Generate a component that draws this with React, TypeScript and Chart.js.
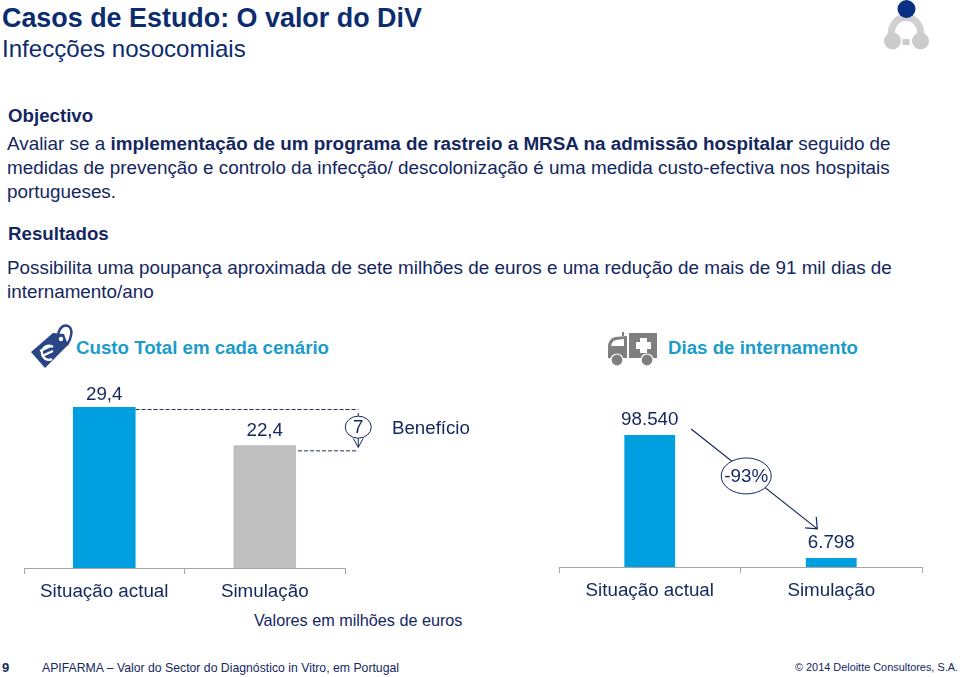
import React, { useEffect, useRef } from "react";
import { Chart, registerables } from "chart.js";

Chart.register(...registerables);

const NAVY = "#14275f";
const TITLE = "#0c2c70";
const CYAN = "#1b9ccb";
const BLUE = "#009fdf";
const GREY = "#bfbfbf";
const AXIS = "#a6a6a6";
const FONT = '"Liberation Sans", Arial, sans-serif';

const costCategories = ["Situação actual", "Simulação"];
const costValues = [29.4, 22.4];
const costLabels = ["29,4", "22,4"];
const costColors = [BLUE, GREY];
const benefitLabel = "7";

const dayCategories = ["Situação actual", "Simulação"];
const dayValues = [98540, 6798];
const dayLabels = ["98.540", "6.798"];
const changeLabel = "-93%";

function drawValueLabels(chart: any, labels: string[], gaps: number[]) {
  const { ctx } = chart;
  const meta = chart.getDatasetMeta(0);
  ctx.save();
  ctx.font = `18.8px ${FONT}`;
  ctx.fillStyle = NAVY;
  ctx.textAlign = "center";
  ctx.textBaseline = "alphabetic";
  meta.data.forEach((bar: any, i: number) => {
    ctx.fillText(labels[i], bar.x, bar.y - gaps[i]);
  });
  ctx.restore();
}

const costPlugin = {
  id: "costPlugin",
  afterDatasetsDraw(chart: any) {
    const { ctx } = chart;
    const y = chart.scales.y;
    const meta = chart.getDatasetMeta(0);
    const [a, b] = meta.data;
    drawValueLabels(chart, costLabels, [7, 9]);
    const mx = b.x + 93.5;
    const yA = y.getPixelForValue(costValues[0]) + 2;
    const yB = y.getPixelForValue(costValues[1]) + 5;
    ctx.save();
    ctx.strokeStyle = "#1c2c5a";
    ctx.lineWidth = 1;
    ctx.setLineDash([4, 2]);
    ctx.beginPath();
    ctx.moveTo(a.x + a.width / 2, yA + 0.5);
    ctx.lineTo(mx, yA + 0.5);
    ctx.moveTo(b.x + b.width / 2 + 2, yB + 0.5);
    ctx.lineTo(mx, yB + 0.5);
    ctx.stroke();
    ctx.setLineDash([]);
    ctx.strokeStyle = NAVY;
    ctx.beginPath();
    ctx.moveTo(mx, yA + 4);
    ctx.lineTo(mx, yB - 3);
    ctx.moveTo(mx - 5, yB - 12);
    ctx.lineTo(mx, yB - 3);
    ctx.lineTo(mx + 5, yB - 12);
    ctx.stroke();
    const cy = (yA + yB) / 2 - 2.5;
    ctx.fillStyle = "#fff";
    ctx.beginPath();
    ctx.ellipse(mx, cy, 13, 11, 0, 0, Math.PI * 2);
    ctx.fill();
    ctx.stroke();
    ctx.fillStyle = NAVY;
    ctx.font = `18.8px ${FONT}`;
    ctx.textAlign = "center";
    ctx.textBaseline = "middle";
    ctx.fillText(benefitLabel, mx, cy + 1);
    ctx.restore();
  },
};

const dayPlugin = {
  id: "dayPlugin",
  afterDatasetsDraw(chart: any) {
    const { ctx } = chart;
    const y = chart.scales.y;
    const [a, b] = chart.getDatasetMeta(0).data;
    drawValueLabels(chart, dayLabels, [10, 10]);
    const x0 = a.x + a.width / 2 + 16;
    const y0 = y.getPixelForValue(dayValues[0]) - 6;
    const x1 = b.x - 14;
    const y1 = y.getPixelForValue(dayValues[1]) - 29;
    ctx.save();
    ctx.strokeStyle = NAVY;
    ctx.lineWidth = 1.2;
    ctx.beginPath();
    ctx.moveTo(x0, y0);
    ctx.lineTo(x1, y1);
    ctx.moveTo(x1 - 12, y1 - 1);
    ctx.lineTo(x1, y1);
    ctx.lineTo(x1 - 1, y1 - 12);
    ctx.stroke();
    const cx = (x0 + x1) / 2 - 8;
    const cy = (y0 + y1) / 2 - 3;
    ctx.fillStyle = "#fff";
    ctx.beginPath();
    ctx.ellipse(cx, cy, 25, 18, 0, 0, Math.PI * 2);
    ctx.fill();
    ctx.lineWidth = 1;
    ctx.stroke();
    ctx.fillStyle = NAVY;
    ctx.font = `18.8px ${FONT}`;
    ctx.textAlign = "center";
    ctx.textBaseline = "middle";
    ctx.fillText(changeLabel, cx, cy + 1);
    ctx.restore();
  },
};

function makeOptions(yMax: number, left: number, right: number, axisHeight: number) {
  return {
    responsive: false,
    animation: false as const,
    layout: { padding: { left, right, top: 0, bottom: 0 } },
    plugins: { legend: { display: false }, tooltip: { enabled: false } },
    scales: {
      y: { display: false, min: 0, max: yMax },
      x: {
        afterFit: (s: any) => {
          s.height = axisHeight;
        },
        border: { color: AXIS, width: 1 },
        grid: { drawOnChartArea: false, drawTicks: true, tickLength: 6, tickColor: AXIS, tickWidth: 1 },
        ticks: { color: NAVY, font: { family: FONT, size: 18.8 }, padding: 7, maxRotation: 0, autoSkip: false },
      },
    },
  };
}

function BarChart(props: any) {
  const ref = useRef<HTMLCanvasElement>(null);
  useEffect(() => {
    const chart = new Chart(ref.current!, {
      type: "bar",
      data: {
        labels: props.categories,
        datasets: [
          {
            data: props.values,
            backgroundColor: props.colors,
            categoryPercentage: 1,
            barPercentage: props.barPct,
          },
        ],
      },
      options: makeOptions(props.yMax, props.padLeft, props.padRight, props.axisHeight) as any,
      plugins: [props.plugin],
    });
    return () => chart.destroy();
  }, []);
  return (
    <canvas
      ref={ref}
      width={props.w}
      height={props.h}
      style={{ position: "absolute", left: props.x, top: props.y, width: props.w, height: props.h }}
    />
  );
}

function T({ x, y, size, bold, color, children }: any) {
  return (
    <div
      style={{
        position: "absolute",
        left: x,
        top: y,
        transform: "translateY(-50%)",
        fontFamily: FONT,
        fontSize: size,
        fontWeight: bold ? 700 : 400,
        color: color || NAVY,
        whiteSpace: "nowrap",
        lineHeight: 1.2,
      }}
    >
      {children}
    </div>
  );
}

function Logo() {
  return (
    <svg style={{ position: "absolute", left: 880, top: 0 }} width="52" height="54" viewBox="0 0 52 54">
      <path d="M11 36 C 11 11, 41 11, 41 36" fill="none" stroke="#d0d0d0" strokeWidth="7" />
      <circle cx="12.5" cy="41" r="8.5" fill="#cbcbcb" />
      <circle cx="40.5" cy="41" r="8.5" fill="#cbcbcb" />
      <rect x="22.5" y="39" width="7" height="6" fill="#cbcbcb" />
      <circle cx="26.5" cy="9" r="9" fill="#0a2f83" />
    </svg>
  );
}

function TagIcon() {
  return (
    <svg style={{ position: "absolute", left: 28, top: 323 }} width="48" height="48" viewBox="0 0 48 48">
      <path d="M3 29 L25 10 L36 11 L40 22 L17 45 Z" fill="#2a4585" />
      <path d="M31 18 C 28 8, 34 1, 40 3 C 46 6, 43 16, 39 22" fill="none" stroke="#2a4585" strokeWidth="2.5" />
      <circle cx="33" cy="16" r="2.2" fill="#fff" />
      <path d="M25 24 A 7 7 0 1 0 24 36 M12 28 L23 23 M14 33 L25 28" fill="none" stroke="#fff" strokeWidth="2.4" />
    </svg>
  );
}

function AmbulanceIcon() {
  return (
    <svg style={{ position: "absolute", left: 607, top: 331 }} width="52" height="36" viewBox="0 0 52 36">
      <path d="M1 27 L1 14 Q2 8 8 6 L20 5 L20 27 Z" fill="#7f7f7f" />
      <path d="M4 15 Q5 10 9 9 L17 8 L17 15 Z" fill="#fff" />
      <rect x="22" y="2" width="28" height="25" fill="#7f7f7f" />
      <rect x="15" y="1" width="2" height="4" fill="#7f7f7f" />
      <rect x="33" y="7" width="7" height="15" fill="#fff" />
      <rect x="29" y="11" width="15" height="7" fill="#fff" />
      <circle cx="10" cy="29" r="6" fill="#7f7f7f" stroke="#fff" strokeWidth="1.2" />
      <circle cx="40" cy="29" r="6" fill="#7f7f7f" stroke="#fff" strokeWidth="1.2" />
    </svg>
  );
}

export default function App() {
  useEffect(() => {
    document.body.style.margin = "0";
  }, []);
  return (
    <div style={{ position: "absolute", left: 0, top: 0, width: 960, height: 677, background: "#fff", overflow: "hidden" }}>
      <T x={2} y={18} size={26.9} bold color={TITLE}>Casos de Estudo: O valor do DiV</T>
      <T x={2} y={49} size={24.1} color={TITLE}>Infecções nosocomiais</T>
      <Logo />

      <T x={8} y={116} size={18.7} bold>Objectivo</T>
      <T x={7} y={144} size={18.87}>
        Avaliar se a <b>implementação de um programa de rastreio a MRSA na admissão hospitalar</b> seguido de
      </T>
      <T x={7} y={168} size={18.87}>medidas de prevenção e controlo da infecção/ descolonização é uma medida custo-efectiva nos hospitais</T>
      <T x={7} y={192} size={18.87}>portugueses.</T>

      <T x={8} y={234} size={18.7} bold>Resultados</T>
      <T x={7} y={268} size={18.87}>Possibilita uma poupança aproximada de sete milhões de euros e uma redução de mais de 91 mil dias de</T>
      <T x={7} y={292} size={18.87}>internamento/ano</T>

      <TagIcon />
      <T x={76} y={348} size={18.7} bold color={CYAN}>Custo Total em cada cenário</T>
      <AmbulanceIcon />
      <T x={668} y={348} size={18.7} bold color={CYAN}>Dias de internamento</T>

      <BarChart
        x={0} y={380} w={480} h={230}
        categories={costCategories} values={costValues} colors={costColors}
        barPct={0.39} yMax={34.33} padLeft={24} padRight={135} axisHeight={42}
        plugin={costPlugin}
      />
      <T x={392} y={428} size={18.7}>Benefício</T>
      <T x={254} y={621} size={16.2}>Valores em milhões de euros</T>

      <BarChart
        x={540} y={380} w={420} h={230}
        categories={dayCategories} values={dayValues} colors={[BLUE, BLUE]}
        barPct={0.28} yMax={139600} padLeft={19} padRight={38} axisHeight={43}
        plugin={dayPlugin}
      />

      <T x={2} y={668} size={13} bold>9</T>
      <T x={42} y={668} size={12.25}>APIFARMA <b style={{ fontWeight: 400 }}>–</b> Valor do Sector do Diagnóstico in Vitro, em Portugal</T>
      <T x={795} y={668} size={10.9}>© 2014 Deloitte Consultores, S.A.</T>
    </div>
  );
}
